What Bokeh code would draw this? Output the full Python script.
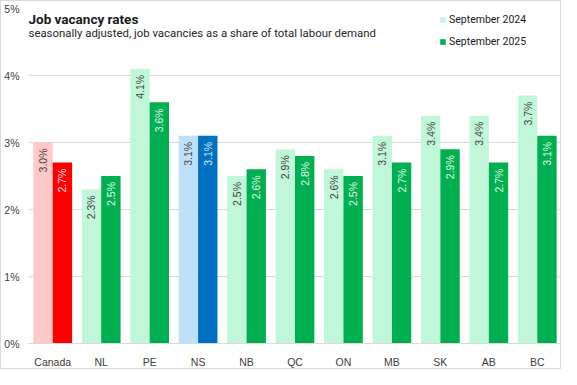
from bokeh.plotting import figure
from bokeh.models import ColumnDataSource, FixedTicker, PrintfTickFormatter, Legend, LegendItem
from bokeh.transform import dodge
from bokeh.core.properties import value
from bokeh.embed import file_html
from bokeh.resources import INLINE
import numpy as np

regions = ["Canada", "NL", "PE", "NS", "NB", "QC", "ON", "MB", "SK", "AB", "BC"]
sep2024 = [3.0, 2.3, 4.1, 3.1, 2.5, 2.9, 2.6, 3.1, 3.4, 3.4, 3.7]
sep2025 = [2.7, 2.5, 3.6, 3.1, 2.6, 2.8, 2.5, 2.7, 2.9, 2.7, 3.1]
y_ticks = [0, 1, 2, 3, 4, 5]
title_text = "Job vacancy rates"
subtitle_text = "seasonally adjusted, job vacancies  as a share of total labour demand"

light_default, dark_default = "#c0f7d9", "#00b050"
light_special = {"Canada": "#ffc9c9", "NS": "#bfe0fa"}
dark_special = {"Canada": "#ff0000", "NS": "#0070c0"}
dark_text = {"Canada": "#ffe3e3", "NS": "#d9ecfb"}

src = ColumnDataSource(dict(
    region=regions,
    y24=sep2024,
    y25=sep2025,
    c24=[light_special.get(r, light_default) for r in regions],
    c25=[dark_special.get(r, dark_default) for r in regions],
    t24=["%.1f%%" % v for v in sep2024],
    t25=["%.1f%%" % v for v in sep2025],
    tc25=[dark_text.get(r, "#e3f8ec") for r in regions],
))

p = figure(x_range=regions, y_range=(0, 5), width=561, height=369,
           output_backend="svg", toolbar_location=None,
           min_border_left=27, min_border_right=1, min_border_top=7, min_border_bottom=25)
p.outline_line_color = None
p.background_fill_color = "white"
p.border_fill_color = "white"

r24 = p.vbar(x=dodge("region", -0.2, range=p.x_range), top="y24", width=0.4,
             source=src, fill_color="c24", line_color=None)
r25 = p.vbar(x=dodge("region", 0.2, range=p.x_range), top="y25", width=0.4,
             source=src, fill_color="c25", line_color=None)

lab_font = value("Liberation Sans")
p.text(x=dodge("region", -0.2, range=p.x_range), y="y24", text="t24", source=src,
       angle=np.pi / 2, text_align="right", text_baseline="middle", y_offset=6,
       text_font=lab_font, text_font_size="10.5px", text_color="#404040")
p.text(x=dodge("region", 0.2, range=p.x_range), y="y25", text="t25", source=src,
       angle=np.pi / 2, text_align="right", text_baseline="middle", y_offset=6,
       text_font=lab_font, text_font_size="10.5px", text_color="tc25")

# title and subtitle drawn inside the plot area
p.text(x=[0.0], y=[4.85], text=[title_text], text_font=value("Roboto"),
       text_font_style="bold", text_font_size="13.5px", text_color="#1a1a1a",
       text_baseline="alphabetic", text_align="left")
p.text(x=[0.0], y=[4.64], text=[subtitle_text], text_font=value("Roboto"),
       text_font_size="11.4px", text_color="#262626",
       text_baseline="alphabetic", text_align="left")

p.yaxis.ticker = FixedTicker(ticks=y_ticks)
p.yaxis.formatter = PrintfTickFormatter(format="%d%%")
p.yaxis.axis_line_color = None
p.yaxis.major_tick_line_color = None
p.yaxis.minor_tick_line_color = None
p.yaxis.major_label_text_font = "Liberation Sans"
p.yaxis.major_label_text_font_size = "10.5px"
p.yaxis.major_label_text_color = "#404040"
p.yaxis.major_label_standoff = 3

p.xaxis.axis_line_color = "#d9d9d9"
p.xaxis.major_tick_line_color = None
p.xaxis.minor_tick_line_color = None
p.xaxis.major_label_text_font = "Liberation Sans"
p.xaxis.major_label_text_font_size = "10.5px"
p.xaxis.major_label_text_color = "#404040"
p.xaxis.major_label_standoff = 6

p.xgrid.grid_line_color = None
p.ygrid.grid_line_color = "#d9d9d9"

legend = Legend(items=[LegendItem(label="September 2024", renderers=[r24], index=1),
                       LegendItem(label="September 2025", renderers=[r25], index=1)],
                location=(411, 295), padding=0, margin=0, spacing=9,
                glyph_width=7, glyph_height=7, label_height=12, label_standoff=3,
                label_text_font="Roboto", label_text_font_size="10.5px", label_text_color="#1a1a1a",
                border_line_color=None, background_fill_alpha=0)
p.add_layout(legend)

p.styles = {"border": "1px solid #d9d9d9"}

open("out.html", "w").write(file_html(p, INLINE))
